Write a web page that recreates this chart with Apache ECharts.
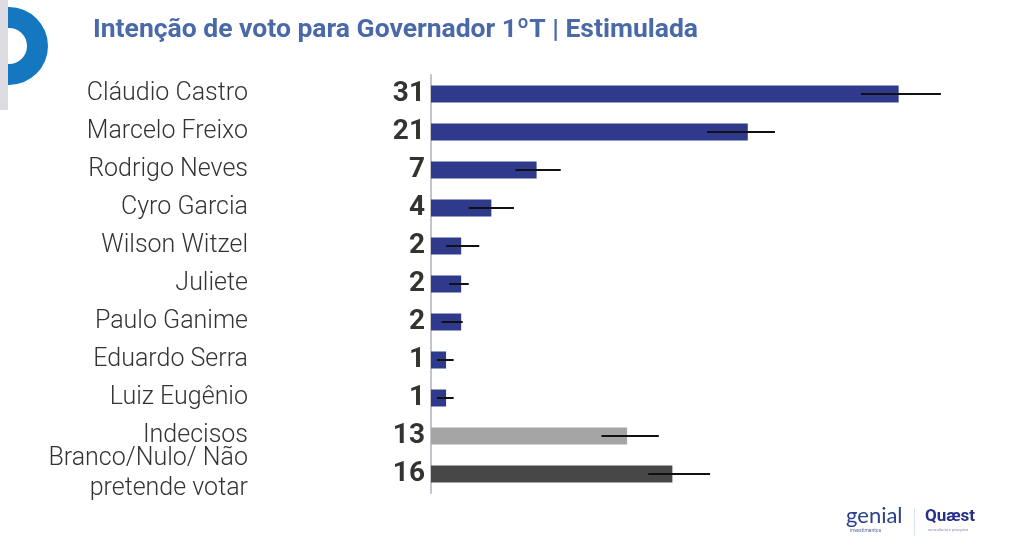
<!DOCTYPE html>
<html>
<head>
<meta charset="utf-8">
<script src="https://cdn.jsdelivr.net/npm/echarts@6/dist/echarts.min.js"></script>
<style>
html, body { margin: 0; padding: 0; background: #fff; }
#main { width: 1024px; height: 553px; }
</style>
</head>
<body>
<div id="main"></div>
<script>
// candidatos, de cima pra baixo
var names = ['Cláudio Castro', 'Marcelo Freixo', 'Rodrigo Neves', 'Cyro Garcia', 'Wilson Witzel',
  'Juliete', 'Paulo Ganime', 'Eduardo Serra', 'Luiz Eugênio', 'Indecisos', 'Branco/Nulo/ Não\npretende votar'];
var values = [31, 21, 7, 4, 2, 2, 2, 1, 1, 13, 16];
// margem de erro (min, max)
var errLow = [28.5, 18.3, 5.6, 2.5, 1.0, 1.2, 0.7, 0.4, 0.4, 11.3, 14.4];
var errHigh = [33.8, 22.8, 8.6, 5.5, 3.2, 2.5, 2.1, 1.5, 1.5, 15.1, 18.5];
var barColors = ['#2f3a8c', '#2f3a8c', '#2f3a8c', '#2f3a8c', '#2f3a8c', '#2f3a8c', '#2f3a8c', '#2f3a8c', '#2f3a8c', '#a5a5a5', '#474747'];

var chart = echarts.init(document.getElementById('main'));

var barData = values.map(function (v, i) {
  return { value: v, itemStyle: { color: barColors[i] } };
});
var errData = values.map(function (v, i) {
  return [i, errLow[i], errHigh[i]];
});

chart.setOption({
  animation: false,
  backgroundColor: '#fff',
  title: {
    text: 'Intenção de voto para Governador 1ºT | Estimulada',
    left: 93,
    top: 17,
    padding: 0,
    textStyle: { color: '#4a69a9', fontSize: 26.5, fontWeight: 'bold', fontFamily: 'Roboto' }
  },
  grid: { left: 431, right: 65, top: 75, bottom: 60 },
  xAxis: {
    type: 'value', min: 0, max: 35,
    show: false
  },
  yAxis: [
    {
      type: 'category', data: values, inverse: true,
      axisLine: { show: true, lineStyle: { color: '#c4c4cc', width: 2 } },
      axisTick: { show: false },
      axisLabel: { margin: 6, color: '#333', fontSize: 28, fontWeight: 'bold', fontFamily: 'Roboto', interval: 0, padding: [4, 0, 0, 0] }
    },
    {
      type: 'category', data: names, inverse: true, position: 'left', offset: 183,
      axisLine: { show: false }, axisTick: { show: false },
      axisLabel: { margin: 0, color: '#333', fontSize: 25, fontWeight: 300, fontFamily: 'Roboto', lineHeight: 30, align: 'right', interval: 0, hideOverlap: false, padding: [4, 0, 0, 0] }
    }
  ],
  series: [
    {
      type: 'bar', data: barData, barWidth: 17, yAxisIndex: 0
    },
    {
      type: 'custom', yAxisIndex: 0, z: 5,
      renderItem: function (params, api) {
        var y = api.value(0);
        var p1 = api.coord([api.value(1), y]);
        var p2 = api.coord([api.value(2), y]);
        return {
          type: 'line',
          shape: { x1: p1[0], y1: p1[1], x2: p2[0], y2: p2[1] },
          style: { stroke: '#111', lineWidth: 2 }
        };
      },
      encode: { x: [1, 2], y: 0 },
      data: errData
    }
  ],
  graphic: [
    { type: 'ring', shape: { cx: 9, cy: 46, r: 39, r0: 18 }, style: { fill: '#1577bf' }, z: 10 },
    { type: 'rect', left: 0, top: 0, shape: { width: 8, height: 110 }, style: { fill: '#dcdce2' }, z: 11 },
    { type: 'text', left: 846, top: 505, style: { text: 'genial', fill: '#2b3f8f', fontSize: 22, fontFamily: 'Lato' } },
    { type: 'text', left: 850, top: 528, style: { text: 'investimentos', fill: '#5a6aa0', fontSize: 5, fontFamily: 'Roboto' } },
    { type: 'rect', left: 914, top: 508, shape: { width: 1, height: 28 }, style: { fill: '#cfe6f0' } },
    { type: 'text', left: 925, top: 508, style: { text: 'Quæst', fill: '#26308a', fontSize: 17, fontFamily: 'Roboto', fontWeight: 'bold' } },
    { type: 'text', left: 928, top: 528, style: { text: 'consultoria e pesquisa', fill: '#8a90b8', fontSize: 4, fontFamily: 'Roboto' } }
  ]
});
</script>
</body>
</html>
